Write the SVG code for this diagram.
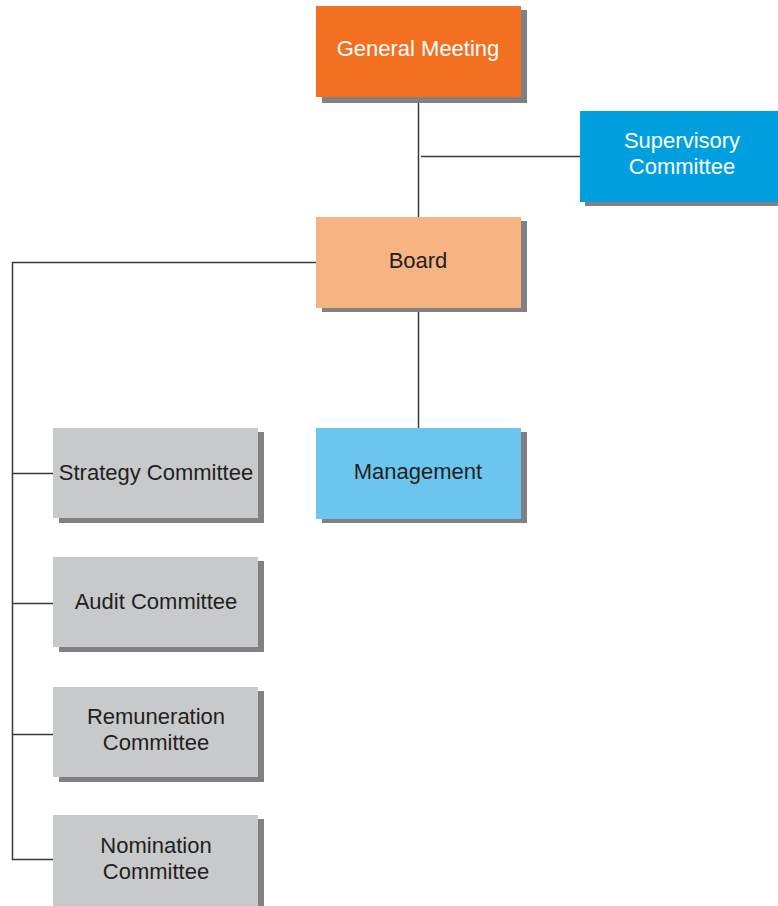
<svg xmlns="http://www.w3.org/2000/svg" width="778" height="906" viewBox="0 0 778 906">
<style>
.sh{fill:#818183}
.t{font-family:"Liberation Sans",Arial,sans-serif;font-size:22px;text-anchor:middle}
.w{fill:#ffffff}
.d{fill:#231f20}
.g{fill:#c8c9cb}
.ln{stroke:#3a3a3a;stroke-width:1.5;fill:none}
</style>
<rect width="778" height="906" fill="#ffffff"/>
<g id="connectors">
<path class="ln" d="M418.5 97V217"/>
<path class="ln" d="M421 156.5H580"/>
<path class="ln" d="M418.5 308V428"/>
<path class="ln" d="M316 262.5H12.5V859.5H53"/>
<path class="ln" d="M12.5 473.5H53"/>
<path class="ln" d="M12.5 603.5H53"/>
<path class="ln" d="M12.5 734.5H53"/>
</g>
<g id="general-meeting">
<rect class="sh" x="322" y="10" width="205" height="93"/>
<rect x="316" y="6" width="205" height="91" fill="#f37021"/>
<text class="t w" x="418" y="56">General Meeting</text>
</g>
<g id="supervisory-committee">
<rect class="sh" x="585" y="115" width="200" height="91"/>
<rect x="580" y="111" width="200" height="91" fill="#00a0e0"/>
<text class="t w" x="682" y="148">Supervisory</text>
<text class="t w" x="682" y="174">Committee</text>
</g>
<g id="board">
<rect class="sh" x="322" y="221" width="205" height="91"/>
<rect x="316" y="217" width="205" height="91" fill="#f8b383"/>
<text class="t d" x="418" y="268">Board</text>
</g>
<g id="management">
<rect class="sh" x="322" y="432" width="205" height="91"/>
<rect x="316" y="428" width="205" height="91" fill="#6cc5ee"/>
<text class="t d" x="418" y="479">Management</text>
</g>
<g id="strategy-committee">
<rect class="sh" x="59" y="432" width="205" height="91"/>
<rect class="g" x="53" y="428" width="205" height="90"/>
<text class="t d" x="156" y="480">Strategy Committee</text>
</g>
<g id="audit-committee">
<rect class="sh" x="59" y="561" width="205" height="91"/>
<rect class="g" x="53" y="557" width="205" height="90"/>
<text class="t d" x="156" y="609">Audit Committee</text>
</g>
<g id="remuneration-committee">
<rect class="sh" x="59" y="691" width="205" height="91"/>
<rect class="g" x="53" y="687" width="205" height="90"/>
<text class="t d" x="156" y="724">Remuneration</text>
<text class="t d" x="156" y="750">Committee</text>
</g>
<g id="nomination-committee">
<rect class="sh" x="59" y="819" width="205" height="91"/>
<rect class="g" x="53" y="815" width="205" height="95"/>
<text class="t d" x="156" y="853">Nomination</text>
<text class="t d" x="156" y="879">Committee</text>
</g>
</svg>
